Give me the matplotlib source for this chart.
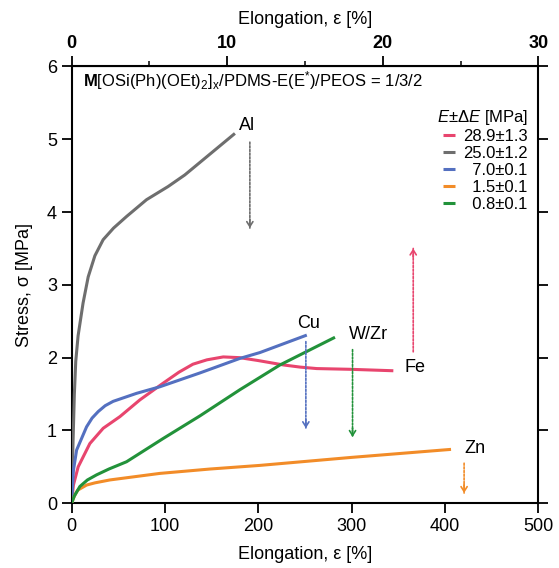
import matplotlib
matplotlib.use('Agg')
import matplotlib.pyplot as plt

plt.rcParams['font.family'] = ['Liberation Sans', 'DejaVu Sans']
plt.rcParams['mathtext.fontset'] = 'custom'
plt.rcParams['mathtext.rm'] = 'Liberation Sans'
plt.rcParams['mathtext.it'] = 'Liberation Sans:italic'
plt.rcParams['mathtext.bf'] = 'Liberation Sans:bold'

# Fe (bottom axis, %)
fe_x = [0, 2, 7.1, 19.6, 33.9, 51.8, 73.2, 98.2, 115, 130, 145, 162.5, 180, 200, 226.8, 245, 262.6, 298.3, 344.7]
fe_y = [0, 0.25, 0.50, 0.82, 1.03, 1.19, 1.42, 1.65, 1.80, 1.91, 1.97, 2.01, 2.00, 1.96, 1.90, 1.87, 1.85, 1.84, 1.82]
# Al is read on the top axis (%)
al_x = [0, 0.09, 0.18, 0.27, 0.42, 0.74, 1.07, 1.5, 2.03, 2.7, 3.54, 4.82, 6.2, 7.28, 10.5]
al_y = [0, 0.8, 1.5, 1.95, 2.3, 2.75, 3.11, 3.4, 3.62, 3.78, 3.94, 4.17, 4.35, 4.51, 5.08]
cu_x = [0, 2, 5.4, 16.1, 22, 28.6, 36, 44.6, 69.7, 94.6, 137.5, 180.4, 201.8, 252]
cu_y = [0, 0.45, 0.73, 1.05, 1.17, 1.26, 1.34, 1.40, 1.51, 1.60, 1.79, 1.99, 2.07, 2.31]
zn_x = [0, 3, 6.6, 16.1, 25, 41, 94.6, 148.2, 201.8, 300, 406.5]
zn_y = [0, 0.10, 0.18, 0.25, 0.28, 0.32, 0.41, 0.47, 0.52, 0.63, 0.74]
wz_x = [0, 3, 8.9, 17, 26.8, 40, 58.9, 98.2, 137.5, 180.4, 223.3, 282.2]
wz_y = [0, 0.10, 0.23, 0.32, 0.39, 0.47, 0.57, 0.89, 1.20, 1.56, 1.90, 2.28]

moduli = ['28.9\u00b11.3', '25.0\u00b11.2', '\u20077.0\u00b10.1', '\u20071.5\u00b10.1', '\u20070.8\u00b10.1']
colors = ['#e8456e', '#6e6e6e', '#5470c0', '#f28c28', '#22923a']

# name, label pos, arrow x, arrow y start, arrow y end
names = ['Fe', 'Al', 'Cu', 'Zn', 'W/Zr']
label_pos = [(368, 1.86), (188, 5.19), (254, 2.47), (432, 0.75), (318, 2.32)]
arrow_x = [366, 191, 251, 420.5, 301]
arrow_y0 = [2.08, 4.96, 2.22, 0.55, 2.11]
arrow_y1 = [3.50, 3.78, 1.03, 0.14, 0.91]

top_scale = 500 / 30.0

fig = plt.figure(figsize=(5.59, 5.68), dpi=100)
ax = fig.add_axes([0.128, 0.114, 0.835, 0.769])

series_x = [fe_x, [v * top_scale for v in al_x], cu_x, zn_x, wz_x]
series_y = [fe_y, al_y, cu_y, zn_y, wz_y]
for xs, ys, c, lab in zip(series_x, series_y, colors, moduli):
    ax.plot(xs, ys, color=c, lw=2.2, label=lab, solid_capstyle='butt',
            solid_joinstyle='round', zorder=3)

for i, nm in enumerate(names):
    c = colors[i]
    ax.text(label_pos[i][0], label_pos[i][1], nm, fontsize=13, ha='center', va='center')
    ax.annotate('', xy=(arrow_x[i], arrow_y1[i]), xytext=(arrow_x[i], arrow_y0[i]),
                arrowprops=dict(arrowstyle='-', color=c, lw=1.2, linestyle=(0, (1.2, 1.0)),
                                shrinkA=0, shrinkB=0))
    d = 0.12 if arrow_y1[i] < arrow_y0[i] else -0.12
    ax.annotate('', xy=(arrow_x[i], arrow_y1[i]), xytext=(arrow_x[i], arrow_y1[i] + d),
                arrowprops=dict(arrowstyle='->,head_length=0.35,head_width=0.22', color=c, lw=1.2,
                                shrinkA=0, shrinkB=0))

ax.set_xlim(0, 500)
ax.set_ylim(0, 6)
ax.set_xticks([0, 100, 200, 300, 400, 500])
ax.set_yticks([0, 1, 2, 3, 4, 5, 6])
ax.tick_params(direction='out', length=7, width=1.3, labelsize=13, right=True)
ax.tick_params(axis='y', labelright=False)
for s in ax.spines.values():
    s.set_linewidth(1.5)
ax.set_xlabel('Elongation, \u03b5 [%]', fontsize=13, labelpad=8)
ax.set_ylabel('Stress, \u03c3 [MPa]', fontsize=13, labelpad=10)

top = ax.secondary_xaxis('top', functions=(lambda x: x / top_scale, lambda x: x * top_scale))
top.set_xticks([0, 10, 20, 30])
top.set_xticks([5, 15, 25], minor=True)
top.tick_params(direction='out', length=7, width=1.3, labelsize=13)
top.tick_params(which='minor', direction='out', length=3.5, width=1.1)
for t in top.get_xticklabels():
    t.set_fontweight('bold')
top.set_xlabel('Elongation, \u03b5 [%]', fontsize=13, labelpad=8)

ax.text(0.024, 0.968, r'$\mathbf{M}$[OSi(Ph)(OEt)$_2$]$_\mathrm{x}$/PDMS-E(E$^{*}$)/PEOS = 1/3/2',
        transform=ax.transAxes, fontsize=12, ha='left', va='center')

leg = ax.legend(loc='upper right', bbox_to_anchor=(0.985, 0.912), frameon=False, fontsize=12,
                title='$E$\u00b1$\\Delta E$ [MPa]', title_fontsize=12,
                alignment='right', handlelength=0.75, handletextpad=0.5, labelspacing=0.12,
                borderpad=0.2, borderaxespad=0)

fig.savefig('out.png', dpi=100)
